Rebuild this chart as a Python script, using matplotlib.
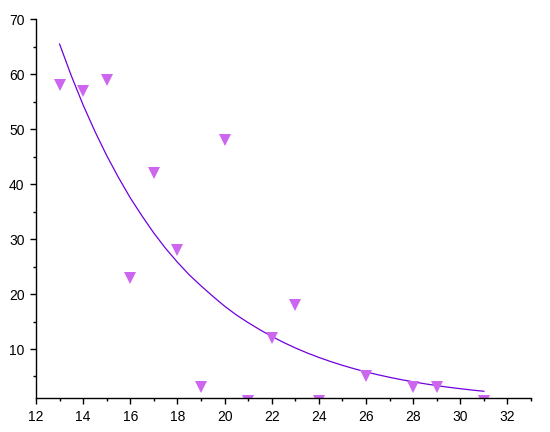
import numpy as np
import matplotlib
matplotlib.use("Agg")
import matplotlib.pyplot as plt
from matplotlib.ticker import MultipleLocator

# scatter data
x_pts = [13, 14, 15, 16, 17, 18, 19, 20, 21, 22, 23, 24, 26, 28, 29, 31]
y_pts = [58, 57, 59, 23, 42, 28, 3, 48, 0.5, 12, 18, 0.5, 5, 3, 3, 0.5]

# fitted curve, read at every half unit from 13 to 31
x_fit = [13, 13.5, 14, 14.5, 15, 15.5, 16, 16.5, 17, 17.5, 18, 18.5,
         19, 19.5, 20, 20.5, 21, 21.5, 22, 22.5, 23, 23.5, 24, 24.5,
         25, 25.5, 26, 26.5, 27, 27.5, 28, 28.5, 29, 29.5, 30, 30.5, 31]
y_fit = [65.5, 59.7, 54.4, 49.6, 45.2, 41.2, 37.5, 34.2, 31.1, 28.3,
         25.8, 23.5, 21.5, 19.6, 17.8, 16.2, 14.8, 13.5, 12.3, 11.2,
         10.2, 9.29, 8.47, 7.72, 7.03, 6.41, 5.84, 5.32, 4.85, 4.42,
         4.03, 3.67, 3.34, 3.04, 2.78, 2.53, 2.31]

plt.rcParams['font.family'] = ['Liberation Sans', 'DejaVu Sans']

fig = plt.figure(figsize=(5.5, 4.32), dpi=100)
ax = fig.add_axes([36/550, 1 - 398.3/432, (531 - 36)/550, (398.3 - 19.3)/432])

ax.plot(x_fit, y_fit, color='#7000dd', lw=0.9)
ax.plot(x_pts, y_pts, 'v', color='#cc66ee', markersize=8.5, markeredgewidth=0)

ax.set_xlim(12, 33)
ax.set_ylim(1.03, 70)
ax.xaxis.set_major_locator(MultipleLocator(2))
ax.xaxis.set_minor_locator(MultipleLocator(1))
ax.yaxis.set_major_locator(MultipleLocator(10))
ax.yaxis.set_minor_locator(MultipleLocator(5))

for s in ['top', 'right']:
    ax.spines[s].set_visible(False)
for s in ['left', 'bottom']:
    ax.spines[s].set_linewidth(1.0)

ax.tick_params(which='major', direction='out', length=4.3, width=1.0,
               labelsize=10, pad=4)
ax.tick_params(which='minor', direction='out', length=2.4, width=1.0)

fig.savefig("out.png", dpi=100)
